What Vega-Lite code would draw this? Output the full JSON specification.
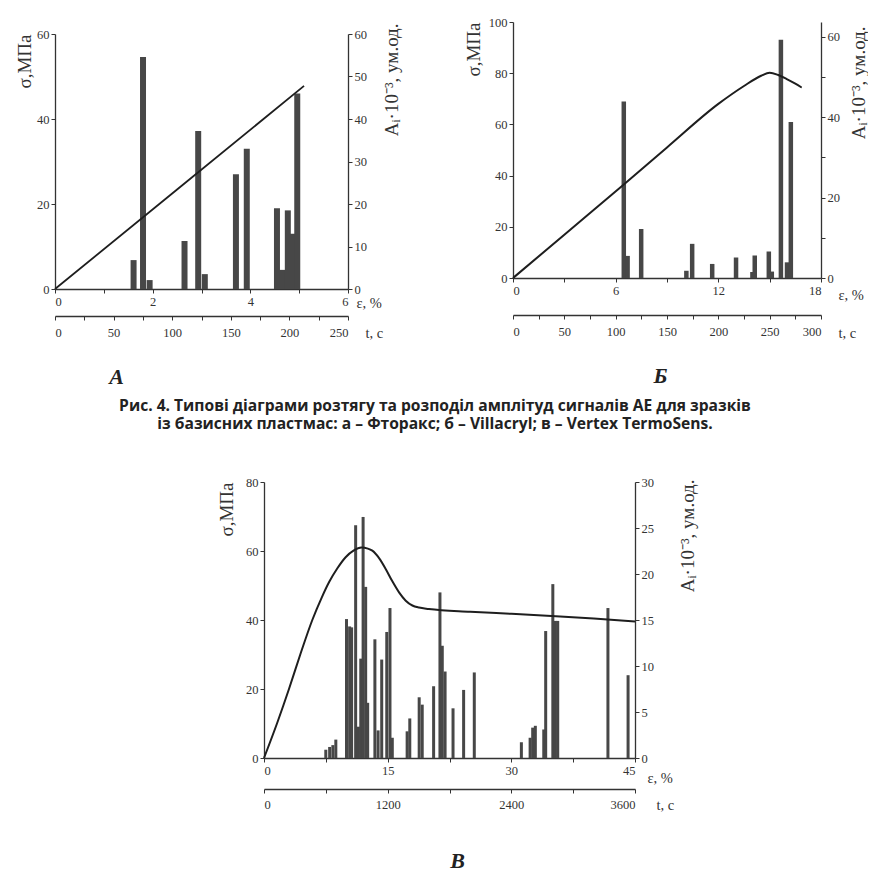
{
  "$schema": "https://vega.github.io/schema/vega-lite/v6.json",
  "background": "white",
  "padding": {"left": 15, "top": 16, "right": 0, "bottom": 0},
  "autosize": {"type": "pad"},
  "spacing": 12,
  "config": {
    "view": {"stroke": null},
    "axis": {"labelFont": "Liberation Serif", "labelFontSize": 12.5, "labelColor": "#333", "titleFont": "Liberation Serif", "titleFontSize": 14.5, "titleFontWeight": "normal", "titleColor": "#333", "domainColor": "#333", "domainWidth": 1.3, "tickColor": "#333", "grid": false, "tickSize": 4, "labelPadding": 2}
  },
  "datasets": {
    "lineA": [{"e": 0, "s": 0}, {"e": 2.5, "s": 23.4}, {"e": 5.1, "s": 47.8}],
    "barsA": [
      {"e": 1.56, "a": 6.8}, {"e": 1.76, "a": 54.6}, {"e": 1.9, "a": 2.1}, {"e": 2.64, "a": 11.3},
      {"e": 2.93, "a": 37.2}, {"e": 3.07, "a": 3.5}, {"e": 3.73, "a": 27}, {"e": 3.96, "a": 33},
      {"e": 4.6, "a": 19}, {"e": 4.71, "a": 4.5}, {"e": 4.77, "a": 4}, {"e": 4.83, "a": 18.5},
      {"e": 4.94, "a": 13}, {"e": 5.03, "a": 46}
    ],
    "lineB1": [
      {"e": 0, "s": 0}, {"e": 3, "s": 16.9}, {"e": 6.39, "s": 36}, {"e": 9, "s": 51}, {"e": 12, "s": 68},
      {"e": 13.5, "s": 75}, {"e": 14.5, "s": 79}, {"e": 15.0, "s": 80.2}, {"e": 15.5, "s": 79.3},
      {"e": 16.0, "s": 77.7}, {"e": 16.5, "s": 75.9}, {"e": 16.87, "s": 74.4}
    ],
    "barsB1": [
      {"e": 6.39, "a": 43.9}, {"e": 6.62, "a": 5.5}, {"e": 7.44, "a": 12.2}, {"e": 10.17, "a": 1.8},
      {"e": 10.52, "a": 8.5}, {"e": 11.73, "a": 3.5}, {"e": 13.17, "a": 5.1}, {"e": 14.16, "a": 1.5},
      {"e": 14.3, "a": 5.6}, {"e": 15.15, "a": 6.6}, {"e": 15.33, "a": 1.6}, {"e": 15.88, "a": 59.3},
      {"e": 16.25, "a": 3.9}, {"e": 16.48, "a": 38.8}
    ],
    "lineV": [
      {"e": 0, "s": 0}, {"e": 1.62, "s": 10.3}, {"e": 3.03, "s": 20}, {"e": 4.4, "s": 30}, {"e": 5.86, "s": 40},
      {"e": 7.0, "s": 46.5}, {"e": 7.9, "s": 51}, {"e": 8.9, "s": 55}, {"e": 9.9, "s": 58.2},
      {"e": 10.9, "s": 60.2}, {"e": 11.8, "s": 61.0}, {"e": 12.6, "s": 60.7}, {"e": 13.14, "s": 60.1},
      {"e": 14.0, "s": 57.8}, {"e": 14.76, "s": 54.8}, {"e": 15.57, "s": 51.2}, {"e": 16.38, "s": 48.0},
      {"e": 17.19, "s": 45.6}, {"e": 18.0, "s": 44.2}, {"e": 18.8, "s": 43.6}, {"e": 20, "s": 43.2},
      {"e": 25, "s": 42.4}, {"e": 30, "s": 41.8}, {"e": 35.4, "s": 41.1}, {"e": 40, "s": 40.4}, {"e": 45, "s": 39.6}
    ],
    "barsV": [
      {"e": 7.08, "a": 0.9}, {"e": 7.56, "a": 1.2}, {"e": 7.96, "a": 1.4}, {"e": 8.33, "a": 2.0},
      {"e": 9.66, "a": 15.1}, {"e": 10.05, "a": 14.3}, {"e": 10.3, "a": 14.2}, {"e": 10.8, "a": 25.3},
      {"e": 11.15, "a": 3.4}, {"e": 11.44, "a": 10.8}, {"e": 11.73, "a": 26.2}, {"e": 12.05, "a": 18.6},
      {"e": 12.3, "a": 6.0}, {"e": 13.2, "a": 12.9}, {"e": 13.6, "a": 3.0}, {"e": 14.05, "a": 10.7},
      {"e": 14.68, "a": 13.7}, {"e": 15.08, "a": 16.3}, {"e": 15.37, "a": 2.2}, {"e": 17.22, "a": 2.9},
      {"e": 17.55, "a": 4.3}, {"e": 18.72, "a": 6.6}, {"e": 19.1, "a": 5.8}, {"e": 20.52, "a": 7.8},
      {"e": 21.31, "a": 18.0}, {"e": 21.6, "a": 12.2}, {"e": 21.95, "a": 9.4}, {"e": 22.94, "a": 5.4},
      {"e": 24.26, "a": 7.4}, {"e": 25.59, "a": 9.3}, {"e": 31.46, "a": 1.7}, {"e": 32.55, "a": 2.2},
      {"e": 32.87, "a": 3.3}, {"e": 33.2, "a": 3.5}, {"e": 34.25, "a": 3.1}, {"e": 34.49, "a": 13.8},
      {"e": 35.38, "a": 18.9}, {"e": 35.7, "a": 14.9}, {"e": 35.99, "a": 14.9}, {"e": 42.25, "a": 16.3},
      {"e": 44.76, "a": 9.0}
    ],
    "tA": [{"t": 0}, {"t": 250}],
    "tB1": [{"t": 0}, {"t": 300}],
    "tV": [{"t": 0}, {"t": 3600}],
    "blank": [{"k": 1}]
  },
  "vconcat": [
    {
      "spacing": 62,
      "hconcat": [
        {
          "spacing": 0,
          "vconcat": [
            {"width": 1, "height": 1, "data": {"name": "blank"}, "mark": {"type": "point", "opacity": 0, "size": 0}, "encoding": {}},
            {
              "width": 293,
              "height": 255,
              "layer": [
                {
                  "data": {"name": "barsA"},
                  "mark": {"type": "bar", "orient": "vertical", "color": "#474747", "size": 6},
                  "encoding": {
                    "x": {"field": "e", "type": "quantitative", "scale": {"domain": [0, 6], "nice": false},
                      "axis": {"orient": "bottom", "labels": false, "ticks": false, "domain": false, "title": "A", "titleX": 61, "titleY": 94, "titleFontSize": 22, "titleFontStyle": "italic", "titleFontWeight": "bold", "titleAlign": "center", "titleBaseline": "alphabetic", "titleColor": "#222"}},
                    "y": {"field": "a", "type": "quantitative", "scale": {"domain": [0, 60], "nice": false},
                      "axis": {"orient": "right", "values": [0, 10, 20, 30, 40, 50, 60], "title": "Aᵢ·10⁻³, ум.од.", "titleFontSize": 19, "titleX": 43, "titleY": -11, "titleAngle": -90, "titleAlign": "right", "titleBaseline": "middle"}}
                  }
                },
                {
                  "data": {"name": "lineA"},
                  "mark": {"type": "line", "color": "#1e1e1e", "strokeWidth": 1.8},
                  "encoding": {
                    "x": {"field": "e", "type": "quantitative", "scale": {"domain": [0, 6], "nice": false},
                      "axis": {"orient": "bottom", "values": [0, 1, 2, 3, 4, 5, 6], "labelExpr": "datum.value % 2 == 0 ? datum.label : ''", "title": "ε, %", "titleX": 301, "titleY": 18, "titleAlign": "left", "titleBaseline": "alphabetic"}},
                    "y": {"field": "s", "type": "quantitative", "scale": {"domain": [0, 60], "nice": false},
                      "axis": {"orient": "left", "values": [0, 20, 40, 60], "title": "σ,МПа", "titleFontSize": 19, "titleX": -31, "titleY": 0, "titleAngle": -90, "titleAlign": "right", "titleBaseline": "middle"}}
                  }
                },
                {
                  "data": {"name": "tA"},
                  "mark": {"type": "rule", "opacity": 0},
                  "encoding": {
                    "x": {"field": "t", "type": "quantitative", "scale": {"domain": [0, 250], "nice": false},
                      "axis": {"orient": "bottom", "offset": 27, "values": [0, 25, 50, 75, 100, 125, 150, 175, 200, 225, 250], "labelExpr": "datum.value % 50 == 0 ? datum.label : ''", "labelPadding": 6, "title": "t, c", "titleX": 310, "titleY": 21, "titleAlign": "left", "titleBaseline": "alphabetic"}}
                  }
                }
              ],
              "resolve": {"scale": {"x": "independent", "y": "independent"}, "axis": {"x": "independent", "y": "independent"}}
            }
          ]
        },
        {
          "width": 308,
          "height": 256,
          "layer": [
            {
              "data": {"name": "barsB1"},
              "mark": {"type": "bar", "orient": "vertical", "color": "#474747", "size": 4.5},
              "encoding": {
                "x": {"field": "e", "type": "quantitative", "scale": {"domain": [0, 18], "nice": false},
                  "axis": {"orient": "bottom", "labels": false, "ticks": false, "domain": false, "title": "Б", "titleX": 147, "titleY": 104, "titleFontSize": 22, "titleFontStyle": "italic", "titleFontWeight": "bold", "titleAlign": "center", "titleBaseline": "alphabetic", "titleColor": "#222"}},
                "y": {"field": "a", "type": "quantitative", "scale": {"domain": [0, 63.7], "nice": false},
                  "axis": {"orient": "right", "values": [0, 10, 20, 30, 40, 50, 60], "labelExpr": "datum.value % 20 == 0 ? datum.label : ''", "title": "Aᵢ·10⁻³, ум.од.", "titleFontSize": 19, "titleX": 37, "titleY": 4, "titleAngle": -90, "titleAlign": "right", "titleBaseline": "middle"}}
              }
            },
            {
              "data": {"name": "lineB1"},
              "mark": {"type": "line", "color": "#1e1e1e", "strokeWidth": 2, "interpolate": "monotone"},
              "encoding": {
                "x": {"field": "e", "type": "quantitative", "scale": {"domain": [0, 18], "nice": false},
                  "axis": {"orient": "bottom", "values": [0, 3, 6, 9, 12, 15, 18], "labelExpr": "datum.value % 6 == 0 ? datum.label : ''", "title": "ε, %", "titleX": 325, "titleY": 21, "titleAlign": "left", "titleBaseline": "alphabetic"}},
                "y": {"field": "s", "type": "quantitative", "scale": {"domain": [0, 100], "nice": false},
                  "axis": {"orient": "left", "values": [0, 20, 40, 60, 80, 100], "title": "σ,МПа", "titleFontSize": 19, "titleX": -40, "titleY": 0, "titleAngle": -90, "titleAlign": "right", "titleBaseline": "middle"}}
              }
            },
            {
              "data": {"name": "tB1"},
              "mark": {"type": "rule", "opacity": 0},
              "encoding": {
                "x": {"field": "t", "type": "quantitative", "scale": {"domain": [0, 300], "nice": false},
                  "axis": {"orient": "bottom", "offset": 37, "values": [0, 25, 50, 75, 100, 125, 150, 175, 200, 225, 250, 275, 300], "labelExpr": "datum.value % 50 == 0 ? datum.label : ''", "labelPadding": 6, "title": "t, c", "titleX": 325, "titleY": 22, "titleAlign": "left", "titleBaseline": "alphabetic"}}
              }
            }
          ],
          "resolve": {"scale": {"x": "independent", "y": "independent"}, "axis": {"x": "independent", "y": "independent"}}
        }
      ]
    },
    {
      "spacing": 62,
      "hconcat": [
        {"width": 2, "height": 1, "data": {"name": "blank"}, "mark": {"type": "point", "opacity": 0, "size": 0}, "encoding": {}},
        {
          "width": 371,
          "height": 276,
          "title": {
            "text": ["Рис. 4. Типові діаграми розтягу та розподіл амплітуд сигналів АЕ для зразків", "із базисних пластмас: а – Фторакс; б – Villacryl; в – Vertex TermoSens."],
            "orient": "top", "anchor": "middle", "frame": "group", "offset": 43, "dx": -14.5,
            "font": "Open Sans", "fontSize": 15.6, "fontWeight": "bold", "color": "#222", "lineHeight": 18
          },
          "layer": [
            {
              "data": {"name": "barsV"},
              "mark": {"type": "bar", "orient": "vertical", "color": "#474747", "size": 3},
              "encoding": {
                "x": {"field": "e", "type": "quantitative", "scale": {"domain": [0, 45], "nice": false},
                  "axis": {"orient": "bottom", "labels": false, "ticks": false, "domain": false, "title": "B", "titleX": 193, "titleY": 109, "titleFontSize": 22, "titleFontStyle": "italic", "titleFontWeight": "bold", "titleAlign": "center", "titleBaseline": "alphabetic", "titleColor": "#222"}},
                "y": {"field": "a", "type": "quantitative", "scale": {"domain": [0, 30], "nice": false},
                  "axis": {"orient": "right", "values": [0, 5, 10, 15, 20, 25, 30], "title": "Aᵢ·10⁻³, ум.од.", "titleFontSize": 19, "titleX": 52, "titleY": -3, "titleAngle": -90, "titleAlign": "right", "titleBaseline": "middle"}}
              }
            },
            {
              "data": {"name": "lineV"},
              "mark": {"type": "line", "color": "#1e1e1e", "strokeWidth": 2, "interpolate": "monotone"},
              "encoding": {
                "x": {"field": "e", "type": "quantitative", "scale": {"domain": [0, 45], "nice": false},
                  "axis": {"orient": "bottom", "values": [0, 7.5, 15, 22.5, 30, 37.5, 45], "labelExpr": "datum.value % 15 == 0 ? datum.label : ''", "title": "ε, %", "titleX": 383, "titleY": 24, "titleAlign": "left", "titleBaseline": "alphabetic"}},
                "y": {"field": "s", "type": "quantitative", "scale": {"domain": [0, 80], "nice": false},
                  "axis": {"orient": "left", "values": [0, 20, 40, 60, 80], "title": "σ,МПа", "titleFontSize": 19, "titleX": -38, "titleY": 0, "titleAngle": -90, "titleAlign": "right", "titleBaseline": "middle"}}
              }
            },
            {
              "data": {"name": "tV"},
              "mark": {"type": "rule", "opacity": 0},
              "encoding": {
                "x": {"field": "t", "type": "quantitative", "scale": {"domain": [0, 3600], "nice": false},
                  "axis": {"orient": "bottom", "offset": 31, "format": "d", "values": [0, 600, 1200, 1800, 2400, 3000, 3600], "labelExpr": "datum.value % 1200 == 0 ? datum.label : ''", "labelPadding": 5, "title": "t, c", "titleX": 392, "titleY": 20, "titleAlign": "left", "titleBaseline": "alphabetic"}}
              }
            }
          ],
          "resolve": {"scale": {"x": "independent", "y": "independent"}, "axis": {"x": "independent", "y": "independent"}}
        }
      ]
    }
  ]
}
